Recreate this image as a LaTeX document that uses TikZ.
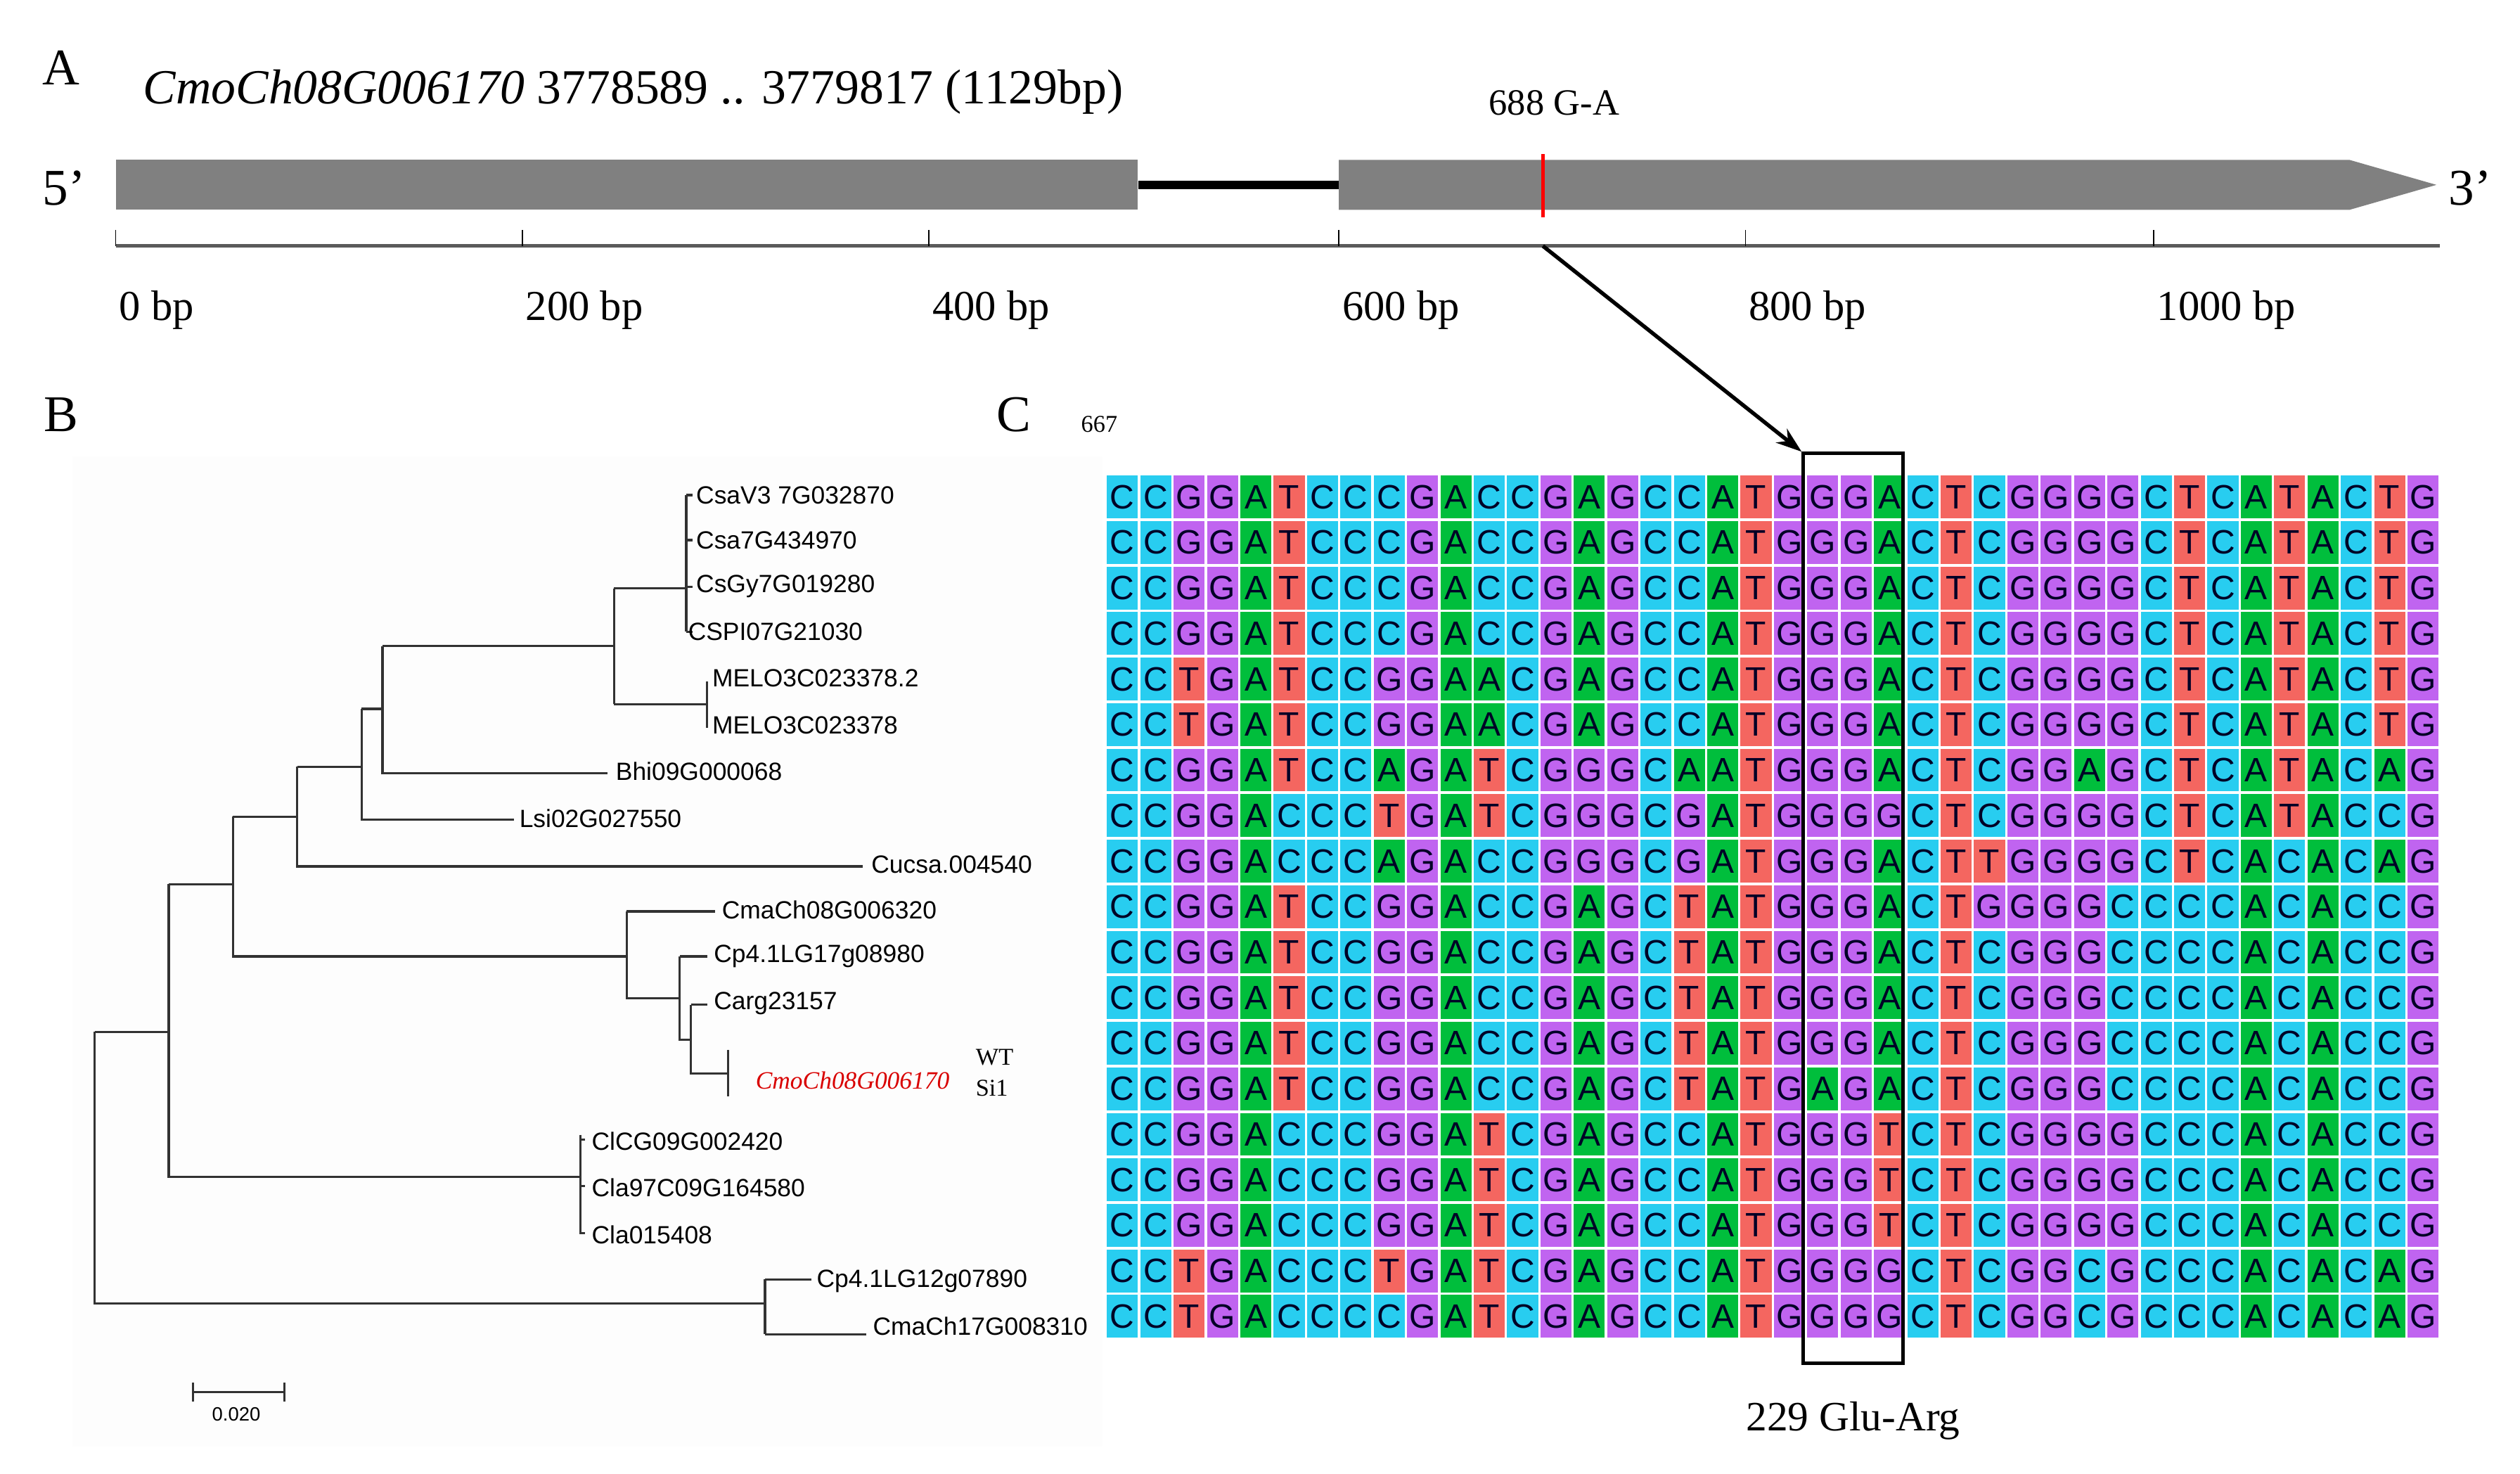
\documentclass[tikz,border=0pt]{standalone}
\usepackage{fontspec}
\setmainfont{Liberation Serif}
\newfontfamily\sans{Liberation Sans}
\usetikzlibrary{arrows.meta}
\newcounter{colc}
\definecolor{cC}{RGB}{40,205,240}
\definecolor{cG}{RGB}{192,100,240}
\definecolor{cA}{RGB}{0,190,60}
\definecolor{cT}{RGB}{244,102,96}
\definecolor{gene}{RGB}{128,128,128}
\definecolor{tree}{RGB}{50,50,50}
\tikzset{
 cell/.style={rectangle,inner sep=0pt,minimum width=19.3pt,minimum height=26.6pt,font=\sans\fontsize{21}{21}\selectfont,text=black!85!blue},
 cellA/.style={cell,fill=cA},cellC/.style={cell,fill=cC},cellG/.style={cell,fill=cG},cellT/.style={cell,fill=cT},
 lbl/.style={inner sep=0pt,font=\fontsize{26}{26}\selectfont},
 panel/.style={inner sep=0pt,font=\fontsize{32}{32}\selectfont},
 leaf/.style={anchor=west,inner sep=0pt,font=\sans\fontsize{15.5}{16}\selectfont},
 br/.style={draw=tree,line width=1.4pt},
}
\begin{document}
\begin{tikzpicture}[x=1pt,y=-1pt]
\useasboundingbox (0,0) rectangle (1568,916.6);
\fill[white] (0,0) rectangle (1568,916.6);
% ---------- Panel A ----------
\node[panel] (pA) at (38,42) {A};
\node[anchor=west,inner sep=0pt,font=\fontsize{30.5}{30.5}\selectfont] (title) at (89,57) {\textit{CmoCh08G006170} 3778589 .. 3779817 (1129bp)};
\node[lbl,font=\fontsize{23}{23}\selectfont] (mut) at (967,64) {688 G-A};
\node[panel] (p5) at (40,117) {5’};
\node[panel] (p3) at (1537,117) {3’};
\node[rectangle,fill=gene,inner sep=0pt,minimum width=636pt,minimum height=31pt] (ex1) at (390,115) {};
\coordinate (ex2w) at (833,115);
\fill[gene] (833,99.5) -- (1462,99.5) -- (1516,115) -- (1462,130.5) -- (833,130.5) -- cycle;
\draw[line width=5pt] (ex1.east) -- (ex2w);
\draw[red,line width=2pt] (960,96) -- (960,135);
% axis
\coordinate (ax0) at (72,153);
\coordinate (ax1) at (1518,153);
\draw[gene!70!black,line width=2pt] (ax0) -- (ax1);
\foreach \x/\t in {72/0,325/200,578/400,833/600,1086/800,1340/1000}{
  \draw[line width=0.6pt] (\x,143) -- (\x,153);
  \node[anchor=west,inner sep=0pt,font=\fontsize{26.5}{26.5}\selectfont] (t\t) at (\x+2,193) {\t\ bp};
}
\coordinate (mpos) at (960,153);
% ---------- Panel labels ----------
\node[panel] (pB) at (38,258) {B};
\node[panel] (pC) at (631,258) {C};
\node[inner sep=0pt,font=\fontsize{15}{15}\selectfont] (n667) at (684,264) {667};
% ---------- Panel C alignment ----------
\def\mycell#1{\pgfmathsetmacro\cx{688+(\thecolc-0.5)*20.75}\pgfmathsetmacro\cy{295+(\rowidx-0.5)*28.32}%
  \node[cell#1] (a-\rowidx-\thecolc) at (\cx,\cy) {#1};}
\def\myscan#1{\ifx#1\relax\else\stepcounter{colc}\mycell{#1}\expandafter\myscan\fi}
\def\myrow#1#2{\def\rowidx{#1}\setcounter{colc}{0}\myscan#2\relax}
\myrow{1}{CCGGATCCCGACCGAGCCATGGGACTCGGGGCTCATACTG}
\myrow{2}{CCGGATCCCGACCGAGCCATGGGACTCGGGGCTCATACTG}
\myrow{3}{CCGGATCCCGACCGAGCCATGGGACTCGGGGCTCATACTG}
\myrow{4}{CCGGATCCCGACCGAGCCATGGGACTCGGGGCTCATACTG}
\myrow{5}{CCTGATCCGGAACGAGCCATGGGACTCGGGGCTCATACTG}
\myrow{6}{CCTGATCCGGAACGAGCCATGGGACTCGGGGCTCATACTG}
\myrow{7}{CCGGATCCAGATCGGGCAATGGGACTCGGAGCTCATACAG}
\myrow{8}{CCGGACCCTGATCGGGCGATGGGGCTCGGGGCTCATACCG}
\myrow{9}{CCGGACCCAGACCGGGCGATGGGACTTGGGGCTCACACAG}
\myrow{10}{CCGGATCCGGACCGAGCTATGGGACTGGGGCCCCACACCG}
\myrow{11}{CCGGATCCGGACCGAGCTATGGGACTCGGGCCCCACACCG}
\myrow{12}{CCGGATCCGGACCGAGCTATGGGACTCGGGCCCCACACCG}
\myrow{13}{CCGGATCCGGACCGAGCTATGGGACTCGGGCCCCACACCG}
\myrow{14}{CCGGATCCGGACCGAGCTATGAGACTCGGGCCCCACACCG}
\myrow{15}{CCGGACCCGGATCGAGCCATGGGTCTCGGGGCCCACACCG}
\myrow{16}{CCGGACCCGGATCGAGCCATGGGTCTCGGGGCCCACACCG}
\myrow{17}{CCGGACCCGGATCGAGCCATGGGTCTCGGGGCCCACACCG}
\myrow{18}{CCTGACCCTGATCGAGCCATGGGGCTCGGCGCCCACACAG}
\myrow{19}{CCTGACCCCGATCGAGCCATGGGGCTCGGCGCCCACACAG}
\node[draw,line width=2pt,inner sep=0pt,minimum width=62pt,minimum height=566pt] (box) at (1153,565) {};
\node[lbl] (aa) at (1153,884) {229 Glu-Arg};
\draw[line width=2.4pt,-{Stealth[length=16pt,width=11pt]}] (mpos) -- (box.north west);
% ---------- Panel B tree ----------
\fill[black!0.7] (45,284) rectangle (686,900);
\draw[br] (427,308) -- (427,393);
\foreach \y in {308,336,365,393}{\draw[br] (427,\y) -- (431,\y);}
\draw[br] (382,366) -- (427,366);
\draw[br] (440,424) -- (440,453);
\draw[br] (382,438) -- (440,438);
\draw[br] (382,366) -- (382,438);
\draw[br] (238,402) -- (382,402);
\draw[br] (238,402) -- (238,481) -- (378,481);
\draw[br] (225,441) -- (238,441);
\draw[br] (225,441) -- (225,510) -- (320,510);
\draw[br] (185,477) -- (225,477);
\draw[br] (185,477) -- (185,539) -- (537,539);
\draw[br] (145,508) -- (185,508);
\draw[br] (145,508) -- (145,595) -- (390,595);
\draw[br] (390,567) -- (445,567);
\draw[br] (390,567) -- (390,621) -- (423,621);
\draw[br] (423,595) -- (423,647) -- (430,647);
\draw[br] (423,595) -- (440,595);
\draw[br] (430,625) -- (430,668) -- (453,668);
\draw[br] (430,625) -- (440,625);
\draw[br] (453,653) -- (453,682);
\draw[br] (105,550) -- (145,550);
\draw[br] (105,550) -- (105,732) -- (361,732);
\draw[br] (361,706) -- (361,768);
\foreach \y in {709,738,767}{\draw[br] (361,\y) -- (364,\y);}
\draw[br] (59,642) -- (105,642);
\draw[br] (59,642) -- (59,811) -- (476,811);
\draw[br] (476,796) -- (476,830);
\draw[br] (476,796) -- (505,796);
\draw[br] (476,830) -- (539,830);
\draw[br] (120,866) -- (177,866);
\draw[br] (120,860) -- (120,872);
\draw[br] (177,860) -- (177,872);
\node[inner sep=0pt,font=\sans\fontsize{12}{12}\selectfont] (scl) at (147,880) {0.020};
\node[leaf] (l1) at (433,308) {CsaV3 7G032870};
\node[leaf] (l2) at (433,336) {Csa7G434970};
\node[leaf] (l3) at (433,365) {CsGy7G019280};
\node[leaf] (l4) at (428,393) {CSPI07G21030};
\node[leaf] (l5) at (443,422) {MELO3C023378.2};
\node[leaf] (l6) at (443,451) {MELO3C023378};
\node[leaf] (l7) at (383,480) {Bhi09G000068};
\node[leaf] (l8) at (323,509) {Lsi02G027550};
\node[leaf] (l9) at (542,538) {Cucsa.004540};
\node[leaf] (l10) at (449,566) {CmaCh08G006320};
\node[leaf] (l11) at (444,595) {Cp4.1LG17g08980};
\node[leaf] (l12) at (444,624) {Carg23157};
\node[anchor=west,inner sep=0pt,font=\fontsize{15.5}{15.5}\selectfont\itshape,text=red!85!black] (l13) at (470,672) {CmoCh08G006170};
\node[anchor=west,inner sep=0pt,font=\fontsize{15}{15}\selectfont] (wt) at (607,658) {WT};
\node[anchor=west,inner sep=0pt,font=\fontsize{15}{15}\selectfont] (si) at (607,677) {Si1};
\node[leaf] (l14) at (368,710) {ClCG09G002420};
\node[leaf] (l15) at (368,739) {Cla97C09G164580};
\node[leaf] (l16) at (368,768) {Cla015408};
\node[leaf] (l17) at (508,797) {Cp4.1LG12g07890};
\node[leaf] (l18) at (543,825) {CmaCh17G008310};
\end{tikzpicture}
\end{document}
